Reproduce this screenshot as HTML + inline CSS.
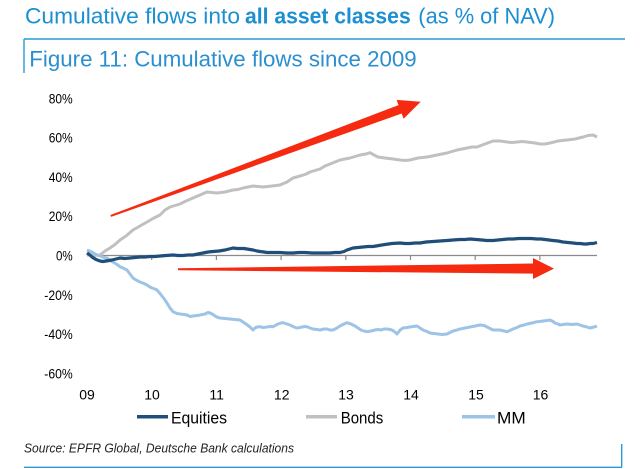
<!DOCTYPE html>
<html>
<head>
<meta charset="utf-8">
<style>
html,body{margin:0;padding:0;background:#fff;}
svg{display:block;}
text{font-family:"Liberation Sans",Arial,sans-serif;}
</style>
</head>
<body>
<svg width="640" height="469" viewBox="0 0 640 469" xmlns="http://www.w3.org/2000/svg">
<rect width="640" height="469" fill="#fff"/>

<!-- Title -->
<text x="25" y="23.3" font-size="22" fill="#1b8fd2" textLength="215" lengthAdjust="spacingAndGlyphs">Cumulative flows into</text>
<text x="245" y="23.3" font-size="22" font-weight="bold" fill="#1b8fd2" textLength="165.7" lengthAdjust="spacingAndGlyphs">all asset classes</text>
<text x="418.3" y="23.3" font-size="22" fill="#1b8fd2" textLength="136.7" lengthAdjust="spacingAndGlyphs">(as % of NAV)</text>

<!-- Frame -->
<line x1="24" y1="39" x2="625" y2="39" stroke="#2a9ad8" stroke-width="1.4"/>
<line x1="24" y1="39" x2="24" y2="73" stroke="#2a9ad8" stroke-width="1.4"/>
<text x="29.3" y="66.7" font-size="22.5" fill="#2b8fcf" textLength="387.4" lengthAdjust="spacingAndGlyphs">Figure 11: Cumulative flows since 2009</text>

<!-- Y labels -->
<g font-size="14" fill="#000" text-anchor="end">
<text x="72.7" y="103.3" textLength="24" lengthAdjust="spacingAndGlyphs">80%</text>
<text x="72.7" y="142.6" textLength="24" lengthAdjust="spacingAndGlyphs">60%</text>
<text x="72.7" y="181.9" textLength="24" lengthAdjust="spacingAndGlyphs">40%</text>
<text x="72.7" y="221.2" textLength="24" lengthAdjust="spacingAndGlyphs">20%</text>
<text x="72.7" y="260.3" textLength="16.7" lengthAdjust="spacingAndGlyphs">0%</text>
<text x="72.7" y="299.8" textLength="28.4" lengthAdjust="spacingAndGlyphs">-20%</text>
<text x="72.7" y="339.1" textLength="28.4" lengthAdjust="spacingAndGlyphs">-40%</text>
<text x="72.7" y="378.4" textLength="28.4" lengthAdjust="spacingAndGlyphs">-60%</text>
</g>

<!-- X axis -->
<line x1="87" y1="255.5" x2="597" y2="255.5" stroke="#8a8a8a" stroke-width="1.2"/>
<g stroke="#8a8a8a" stroke-width="1.2">
<line x1="151.7" y1="255.5" x2="151.7" y2="260"/>
<line x1="216.4" y1="255.5" x2="216.4" y2="260"/>
<line x1="281.1" y1="255.5" x2="281.1" y2="260"/>
<line x1="345.8" y1="255.5" x2="345.8" y2="260"/>
<line x1="410.5" y1="255.5" x2="410.5" y2="260"/>
<line x1="475.2" y1="255.5" x2="475.2" y2="260"/>
<line x1="539.9" y1="255.5" x2="539.9" y2="260"/>
</g>
<g font-size="14" fill="#000" text-anchor="middle">
<text x="87" y="399.3">09</text>
<text x="152" y="399.3">10</text>
<text x="216.7" y="399.3">11</text>
<text x="281.7" y="399.3">12</text>
<text x="346" y="399.3">13</text>
<text x="411" y="399.3">14</text>
<text x="476" y="399.3">15</text>
<text x="540.5" y="399.3">16</text>
</g>

<!-- Bonds -->
<polyline fill="none" stroke="#c0c0c0" stroke-width="3" stroke-linejoin="round"
points="87,255 93,255.5 100,255 105,251 110,248 115,244.5 120,240 126,236 133,230 140,226 147,222 153,218.5 160,215 165,210 170,207 175,205.5 180,204 186,201 193,198 200,195 207,192 212,192.5 217,193 225,192 233,190 238,189.5 243,188 248,187 253,186 258,186.5 263,187 272,186 280,185 287,182 293,178 300,176 305,174.5 310,172 315,170.5 320,169 325,166 330,164 335,162 340,160 345,159 350,158 355,156.5 360,155 366,154 370,152.7 374,155 378,157 385,158 393,159 400,160 405,160.5 410,160 418,158 427,157 432,156 437,155 442,154 447,153 452,151.5 457,150 462,149 467,148 472,147 477,147 481,145.5 485,144 489,142.5 493,141 500,141 507,142 512,142.5 517,142 522,141.5 527,142 531,142.5 535,143 540,144 545,144 550,143 554,142 558,141 562,140.5 567,140 571,139.5 575,139 579,138 583,137 588,135.5 593,135 597,137"/>

<!-- MM -->
<polyline fill="none" stroke="#9dc3e6" stroke-width="3" stroke-linejoin="round"
points="87,250 92,252 96,254.5 100,256 104,257.5 107,258 110,260.5 113,262 117,264.5 120,266.7 124,268.5 127,270 130,274 133,278 137,280.5 140,282 144,283.5 147,285 150,287 152,288 155,289 157,290 160,293.5 162,296 165,300 167,303 170,308 173,311.7 177,313.5 180,314 184,314.5 187,315 190,316.5 193,316 197,315.5 200,315 205,314 208,312.5 210,313 213,314.5 215,316 218,317.5 220,318 225,318.5 230,319 235,319.5 240,320 243,322 246,324 250,327 253,330 255,328 257,327 260,326.7 263,327.5 267,327 270,326.5 273,326.7 276,325 278,324 281,323 283,322.7 287,324 290,325 294,327 297,328 300,327.5 302,327 305,326.5 307,326.7 310,328 313,329 317,329.5 320,330 324,329 327,329 330,330 333,330 337,328 340,326 344,324 347,322.7 351,324 355,326 358,328 361,330 364,331 367,331.7 371,331 375,330 378,329.5 381,330 384,329 387,329 390,329.5 392,330 395,332 397,334 399,331.5 400,330 403,328 407,327.5 410,327 413,326.5 417,326 420,328 423,330 427,331.5 430,333 434,333.5 438,334 442,334.5 447,334 450,332.5 453,331 457,330 460,329 465,328 470,327 475,326 480,325 484,325.5 487,327 490,328.5 493,330 497,330 500,330 504,331 507,331.7 510,330.5 513,329 517,327.5 520,326 524,325 527,324 532,323 537,321.7 540,321.5 543,321 547,320.5 550,320 553,321.5 555,323 558,324 560,325 563,324.5 567,324 572,324.5 577,324 580,325 583,326 587,327 590,328 594,327 597,326"/>

<!-- Equities -->
<polyline fill="none" stroke="#1f4e79" stroke-width="3.2" stroke-linejoin="round"
points="87,253 90,255 92,257 96,259.5 100,261 103,261.5 106,261 109,260.5 112,260 116,259 120,258 125,258.5 130,258 135,257.5 140,257 145,257 150,256.5 155,256.5 160,256 166,255.5 173,255 178,255.5 183,255.5 188,255 193,255 198,254 203,253 208,252 213,251.5 219,251 225,250 229,249 233,248 237,248.5 240,248.5 244,248.5 247,249 250,249.5 253,250 257,251 260,251.5 264,252 267,252.5 273,252.5 280,252.5 287,253 293,253 299,252.5 305,252.5 312,253 320,253 325,253 330,253 335,252.5 340,252.5 344,251.5 347,250 350,249 353,248 358,247.5 363,247 368,246.5 373,246.5 379,245.5 385,244.5 392,243.5 400,243 405,243.5 410,243.5 415,243 420,243 426,242 433,241.5 440,241 447,240.5 453,240 460,239.5 465,239.5 470,239 476,239.5 482,240 487,240.5 493,240.5 498,240 503,239.5 508,239 513,239 519,238.5 525,238.5 531,238.5 537,239 541,239 545,239.5 549,240 553,240.5 558,241 563,242 568,242.5 573,243 577,243.5 580,243.5 584,244 587,244 590,243.5 593,243.5 597,242.5"/>

<!-- Red arrows -->
<polygon fill="#f62a10" points="110.35,215.06 398.5,105.1 396.6,99.9 420.7,101.7 403.6,118.7 401.7,113.5 111.05,216.9"/>
<polygon fill="#f62a10" points="178,268.3 533,263.5 533,258 554,268.6 533,279 533,273.6 178,270.3"/>

<!-- Legend -->
<line x1="137" y1="416.7" x2="168" y2="416.7" stroke="#1f4e79" stroke-width="3.5"/>
<text x="171" y="423.3" font-size="16.5" fill="#000" textLength="56" lengthAdjust="spacingAndGlyphs">Equities</text>
<line x1="306" y1="416.7" x2="337" y2="416.7" stroke="#c0c0c0" stroke-width="3.5"/>
<text x="340.7" y="423.3" font-size="16.5" fill="#000" textLength="42.6" lengthAdjust="spacingAndGlyphs">Bonds</text>
<line x1="462" y1="416.7" x2="495" y2="416.7" stroke="#9dc3e6" stroke-width="3.5"/>
<text x="497" y="423.3" font-size="16.5" fill="#000" textLength="28.7" lengthAdjust="spacingAndGlyphs">MM</text>

<!-- Source -->
<text x="24" y="452.5" font-size="13" font-style="italic" fill="#222" textLength="270" lengthAdjust="spacingAndGlyphs">Source: EPFR Global, Deutsche Bank calculations</text>
<line x1="24" y1="467.3" x2="622" y2="467.3" stroke="#2a9ad8" stroke-width="1.4"/>
<line x1="621.7" y1="444" x2="621.7" y2="467.3" stroke="#2a9ad8" stroke-width="1.4"/>
</svg>
</body>
</html>
